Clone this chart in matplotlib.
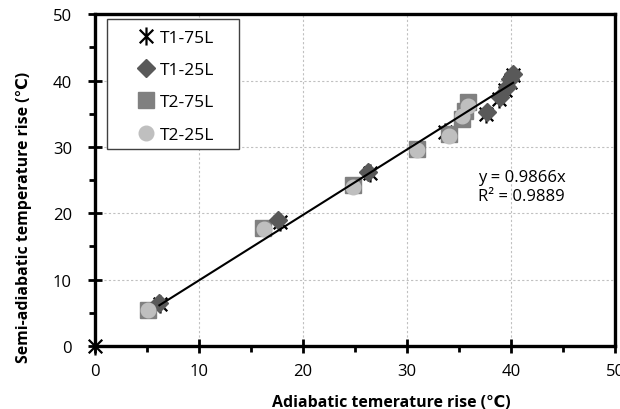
import matplotlib
matplotlib.use("Agg")
import matplotlib.pyplot as plt
import numpy as np
from matplotlib.ticker import MultipleLocator
from matplotlib.path import Path
from matplotlib.patches import Rectangle

plt.rcParams['font.family'] = ['Open Sans', 'DejaVu Sans']

# Data
t1_75_x = [0, 6.3, 17.8, 26.4, 33.7, 37.6, 38.8, 39.4, 39.9, 40.2]
t1_75_y = [0, 6.3, 18.7, 26.1, 32.3, 35.0, 37.2, 38.5, 39.8, 40.8]
t1_25_x = [6.2, 17.6, 26.3, 37.7, 38.9, 39.6, 39.9, 40.2]
t1_25_y = [6.5, 19.0, 26.2, 35.2, 37.5, 39.0, 40.2, 41.0]
t2_75_x = [5.1, 16.2, 24.8, 31.0, 34.0, 35.3, 35.6, 35.9]
t2_75_y = [5.4, 17.8, 24.2, 29.7, 31.9, 34.2, 35.4, 36.7]
t2_25_x = [5.1, 16.3, 24.8, 31.0, 34.0, 35.3, 35.9]
t2_25_y = [5.4, 17.6, 24.0, 29.5, 31.7, 34.6, 36.2]
slope = 0.9866
r2 = 0.9889

# Excel-like star marker: X plus vertical bar
star = Path([(0, -1), (0, 1), (-0.75, -0.75), (0.75, 0.75), (-0.75, 0.75), (0.75, -0.75)],
            [Path.MOVETO, Path.LINETO, Path.MOVETO, Path.LINETO, Path.MOVETO, Path.LINETO])

fig = plt.figure(figsize=(6.2, 4.1), dpi=100)
ax = fig.add_axes([0.153, 0.154, 0.839, 0.809])

ax.plot(t2_75_x, t2_75_y, ls='none', marker='s', ms=12, color='#808080', label='T2-75L', zorder=3)
ax.plot(t2_25_x, t2_25_y, ls='none', marker='o', ms=10.5, color='#bfbfbf', label='T2-25L', zorder=4)
ax.plot(t1_25_x, t1_25_y, ls='none', marker='D', ms=9, color='#595959', label='T1-25L', zorder=3)
ax.plot(t1_75_x, t1_75_y, ls='none', marker=star, ms=13, mew=1.6, color='black', mfc='none',
        label='T1-75L', zorder=2, clip_on=False)

xs = np.array([min(t1_25_x), max(t1_25_x)])
ax.plot(xs, slope * xs, color='black', lw=1.5, zorder=5)

ax.text(36.8, 25.5, f'y = {slope}x', fontsize=12, va='center', ha='left')
ax.text(36.8, 22.6, f'R² = {r2}', fontsize=12, va='center', ha='left')

ax.set_xlim(0, 50)
ax.set_ylim(0, 50)
ax.xaxis.set_major_locator(MultipleLocator(10))
ax.yaxis.set_major_locator(MultipleLocator(10))
ax.xaxis.set_minor_locator(MultipleLocator(5))
ax.yaxis.set_minor_locator(MultipleLocator(5))
ax.tick_params(which='major', direction='inout', length=10, width=2, labelsize=12)
ax.tick_params(axis='x', which='major', pad=7)
ax.tick_params(axis='y', which='major', pad=11.5)
ax.tick_params(which='minor', direction='out', length=4, width=2)
ax.grid(True, which='major', ls=(0, (2, 2)), color='#c0c0c0', lw=0.8)
for s in ax.spines.values():
    s.set_linewidth(2.4)
ax.set_axisbelow(True)

ax.set_xlabel('Adiabatic temerature rise (℃)', fontsize=11.4, fontweight='bold')
ax.set_ylabel('Semi-adiabatic temperature rise (℃)', fontsize=11.4, fontweight='bold')
ax.xaxis.set_label_coords(0.569, -0.146)
ax.yaxis.set_label_coords(-0.121, 0.391)

# legend box
ax.add_patch(Rectangle((0.023, 0.593), 0.254, 0.392, transform=ax.transAxes,
                       facecolor='white', edgecolor='#404040', lw=1.0, zorder=6))
h, l = ax.get_legend_handles_labels()
order = ['T1-75L', 'T1-25L', 'T2-75L', 'T2-25L']
hd = dict(zip(l, h))
leg = ax.legend([hd[k] for k in order], order, loc='upper left', bbox_to_anchor=(0.079, 0.952),
                fontsize=12.5, frameon=False, labelspacing=0.92, handlelength=1.2,
                handletextpad=0.2, borderpad=0.0, borderaxespad=0.0)
leg.set_zorder(7)

fig.savefig('out.png', dpi=100)
